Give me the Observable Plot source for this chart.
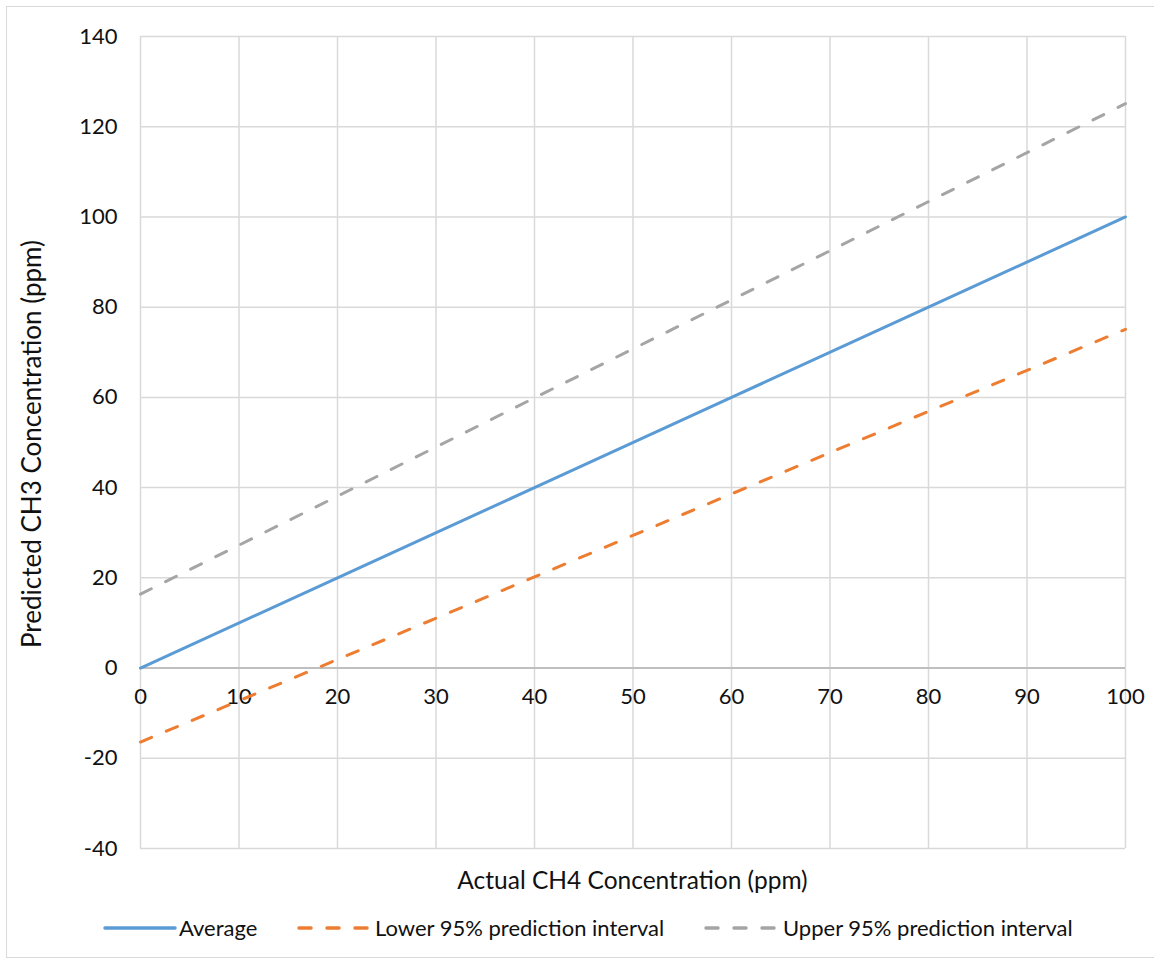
<!DOCTYPE html>
<html>
<head>
<meta charset="utf-8">
<script src="https://cdn.jsdelivr.net/npm/d3@7"></script>
<script src="https://cdn.jsdelivr.net/npm/@observablehq/plot@0.6"></script>
<style>
  html, body { margin: 0; padding: 0; background: #fff; overflow: hidden; }
  #wrap { position: relative; width: 1154px; height: 965px; font-family: Lato, "Open Sans", sans-serif; }
  #frame { position: absolute; left: 6px; top: 6px; width: 1160px; height: 952px; border: 1.5px solid #d9d9d9; box-sizing: border-box; }
  #chart { position: absolute; left: 0; top: 0; }
  #legend { position: absolute; left: 0; top: 913px; width: 1154px; height: 30px; font-size: 22px; color: #111; }
  .sw { position: absolute; top: 10px; line-height: 0; }
  .sw svg { display: block; }
  .lab { position: absolute; top: 0; line-height: 30px; white-space: nowrap; }
</style>
</head>
<body>
<div id="wrap">
  <div id="frame"></div>
  <div id="chart"></div>
  <div id="legend"></div>
</div>
<script>
// Data
const actual = [0, 20, 40, 60, 80, 100];
const average = [0, 20, 40, 60, 80, 100];
const lower95 = [-16.4, 1.9, 20.2, 38.6, 56.9, 75.1];
const upper95 = [16.4, 38.1, 59.9, 81.6, 103.4, 125.1];
const seriesNames = ["Average", "Lower 95% prediction interval", "Upper 95% prediction interval"];
const seriesColors = ["#5b9bd5", "#ed7d31", "#a5a5a5"];
const xTicks = [0, 10, 20, 30, 40, 50, 60, 70, 80, 90, 100];
const yTicks = [-40, -20, 0, 20, 40, 60, 80, 100, 120, 140];

const rows = [];
[average, lower95, upper95].forEach((vals, i) => {
  vals.forEach((v, j) => rows.push({series: seriesNames[i], x: actual[j], y: v}));
});

const tickSize = 22;
const dashes = "12,16";
const chart = Plot.plot({
  width: 1154,
  height: 905,
  marginLeft: 140,
  marginRight: 29,
  marginTop: 36,
  marginBottom: 57,
  style: {fontFamily: "Lato, 'Open Sans', sans-serif", fontSize: tickSize + "px", color: "#111", background: "transparent"},
  x: {domain: [0, 100]},
  y: {domain: [-40, 140]},
  marks: [
    Plot.gridX(xTicks, {stroke: "#d9d9d9", strokeOpacity: 1, strokeWidth: 1.5}),
    Plot.gridY(yTicks, {stroke: "#d9d9d9", strokeOpacity: 1, strokeWidth: 1.5}),
    Plot.ruleY([0], {stroke: "#bfbfbf", strokeWidth: 2}),
    Plot.axisY(yTicks, {tickSize: 0, tickPadding: 23, tickFormat: d => `${d}`, fontSize: tickSize, label: null}),
    Plot.text(xTicks, {x: d => d, y: () => 0, text: d => `${d}`, dy: 29, fontSize: tickSize, fill: "#111"}),
    Plot.axisX({ticks: [], tickSize: 0, label: null}),
    Plot.line(rows.filter(d => d.series === seriesNames[0]), {x: "x", y: "y", stroke: seriesColors[0], strokeWidth: 3}),
    Plot.line(rows.filter(d => d.series === seriesNames[1]), {x: "x", y: "y", stroke: seriesColors[1], strokeWidth: 3, strokeDasharray: dashes, strokeLinecap: "round"}),
    Plot.line(rows.filter(d => d.series === seriesNames[2]), {x: "x", y: "y", stroke: seriesColors[2], strokeWidth: 3, strokeDasharray: dashes, strokeLinecap: "round"})
  ]
});

// Axis titles
const svg = d3.select(chart.tagName.toLowerCase() === "svg" ? chart : chart.querySelector("svg"));
svg.append("text").attr("x", 632.5).attr("y", 883).attr("text-anchor", "middle").attr("dominant-baseline", "middle")
  .attr("font-size", 24.5).attr("fill", "#111").text("Actual CH4 Concentration (ppm)");
svg.append("text").attr("transform", "translate(34,444) rotate(-90)").attr("text-anchor", "middle").attr("dominant-baseline", "middle")
  .attr("font-size", 26).attr("fill", "#111").text("Predicted CH3 Concentration (ppm)");

document.getElementById("chart").appendChild(chart);

// Legend
const swatchX = [103, 297, 704];
const labelX = [179, 375, 783];
const legend = document.getElementById("legend");
seriesNames.forEach((name, i) => {
  const dash = i === 0 ? "" : `stroke-dasharray="${dashes}"`;
  const sw = document.createElement("div");
  sw.className = "sw";
  sw.style.left = swatchX[i] + "px";
  sw.innerHTML = `<svg width="74" height="10"><line x1="2" y1="5" x2="72" y2="5" stroke="${seriesColors[i]}" stroke-width="3.5" stroke-linecap="round" ${dash}/></svg>`;
  legend.appendChild(sw);
  const lab = document.createElement("div");
  lab.className = "lab";
  lab.style.left = labelX[i] + "px";
  lab.textContent = name;
  legend.appendChild(lab);
});
</script>
</body>
</html>
